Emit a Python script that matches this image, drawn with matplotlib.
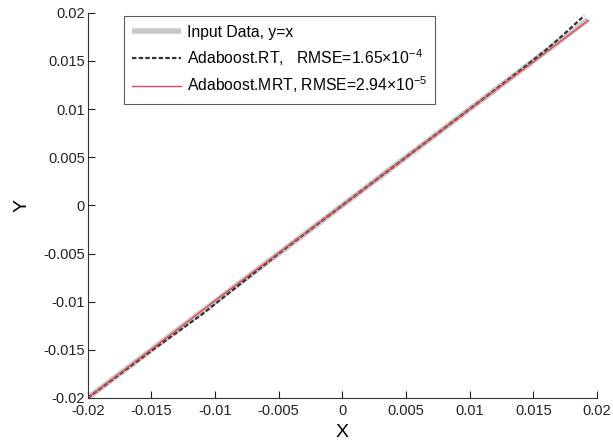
import numpy as np
import matplotlib
matplotlib.use("Agg")
import matplotlib.pyplot as plt

plt.rcParams['font.family'] = ['Liberation Sans', 'DejaVu Sans']
plt.rcParams['mathtext.fontset'] = 'custom'
plt.rcParams['mathtext.rm'] = 'Liberation Sans'
plt.rcParams['mathtext.it'] = 'Liberation Sans'

# --- data ---
x_input = [-0.02, 0.0193]
y_input = [-0.02, 0.0193]

x_rt = [-0.02, -0.017, -0.015, -0.013, -0.011, -0.009, -0.007, -0.005, -0.002, 0.0,
        0.003, 0.006, 0.009, 0.012, 0.014, 0.016, 0.017, 0.018, 0.019]
y_rt = [-0.02, -0.01705, -0.0151, -0.0132, -0.0113, -0.0092, -0.0071, -0.005, -0.002, 0.0,
        0.003, 0.006, 0.009, 0.012, 0.01405, 0.01615, 0.0173, 0.0185, 0.0197]

x_mrt = [-0.02, -0.01, 0.0, 0.01, 0.015, 0.0193]
y_mrt = [-0.02, -0.0099, 0.0, 0.01, 0.0149, 0.0192]

ticks = [-0.02, -0.015, -0.01, -0.005, 0, 0.005, 0.01, 0.015, 0.02]
tick_labels = ['-0.02', '-0.015', '-0.01', '-0.005', '0', '0.005', '0.01', '0.015', '0.02']

labels = ['Input Data, y=x',
          r'Adaboost.RT,   RMSE=1.65$\times$10$^{-4}$',
          r'Adaboost.MRT, RMSE=2.94$\times$10$^{-5}$']

fig = plt.figure(figsize=(6.13, 4.43), dpi=100)
ax = fig.add_axes([0.143, 0.1016, 0.831, 0.8697])

ax.plot(x_input, y_input, color='#c8c8c8', lw=4, label=labels[0], solid_capstyle='butt')
ax.plot(x_rt, y_rt, color='#333333', lw=1.6, dashes=(2, 1), label=labels[1])
ax.plot(x_mrt, y_mrt, color='#e8474f', lw=1.0, label=labels[2])

ax.set_xlim(-0.02, 0.02)
ax.set_ylim(-0.02, 0.02)
ax.set_xticks(ticks)
ax.set_xticklabels(tick_labels)
ax.set_yticks(ticks)
ax.set_yticklabels(tick_labels)
ax.tick_params(direction='in', length=5, labelsize=10.5, pad=2, colors='#222222')
ax.tick_params(axis='x', pad=4)
ax.spines['top'].set_visible(False)
ax.spines['right'].set_visible(False)
for s in ('left', 'bottom'):
    ax.spines[s].set_color('#333333')

ax.set_xlabel('X', fontsize=14, labelpad=5)
ax.set_ylabel('Y', fontsize=14, labelpad=9)

leg = ax.legend(loc='upper left', bbox_to_anchor=(0.071, 0.991), borderaxespad=0,
                fontsize=11.3, frameon=True, fancybox=False, handlelength=3.1,
                handletextpad=0.35, labelspacing=0.45, borderpad=0.55)
leg.get_frame().set_edgecolor('#333333')
leg.get_frame().set_linewidth(0.8)

fig.savefig('out.png', dpi=100)
